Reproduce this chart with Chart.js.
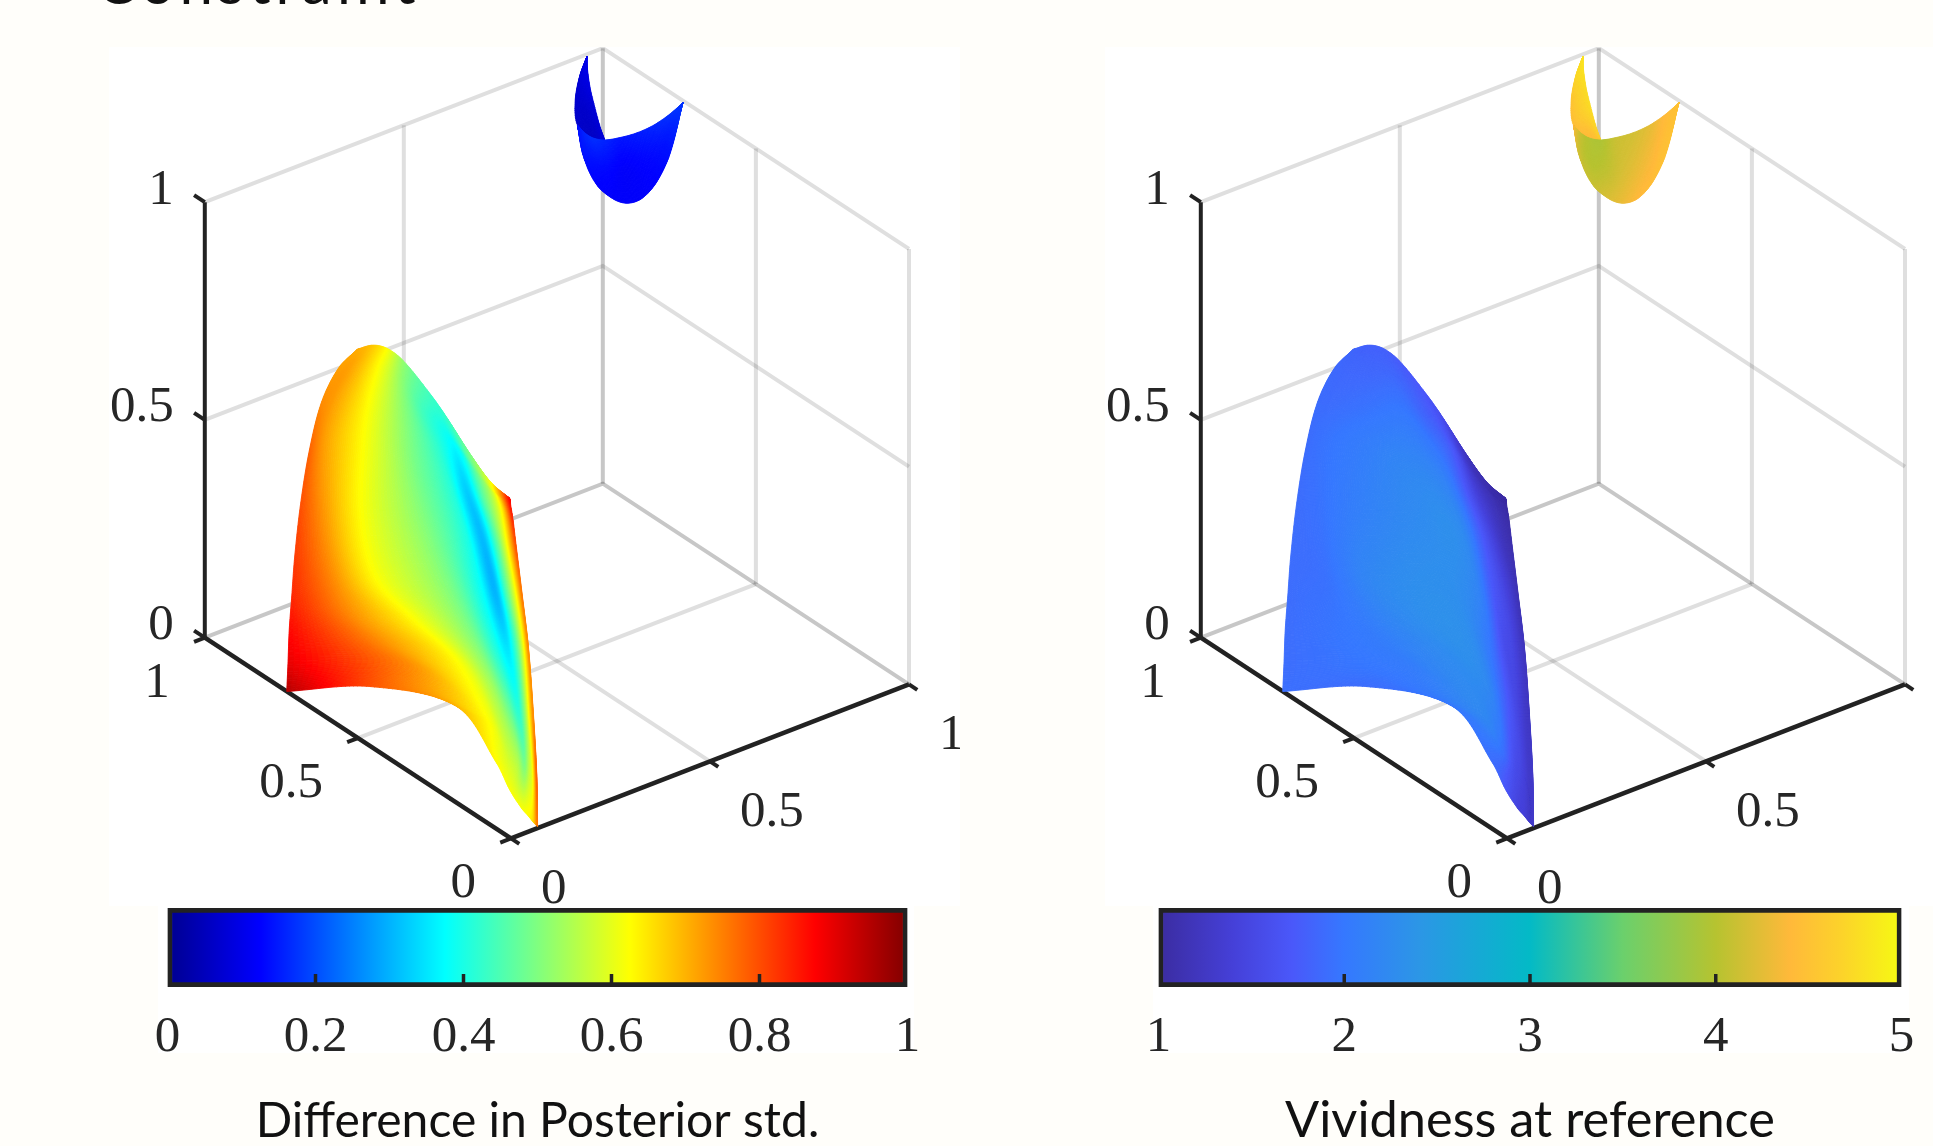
<!DOCTYPE html>
<html>
<head>
<meta charset="utf-8">
<title>Difference in Posterior std. / Vividness at reference</title>
<script src="https://cdn.jsdelivr.net/npm/chart.js@4"></script>
<style>
  html, body { margin: 0; padding: 0; width: 1933px; height: 1146px; overflow: hidden; background: #fffefa; }
  canvas, .patch, .heading { position: absolute; }
  .patch { background: #fff; }
  .heading { left: 96px; top: -49px; font: 60px/60px Lato, sans-serif; letter-spacing: 5px; color: #111; white-space: nowrap; }
</style>
</head>
<body>
<div class="heading">Constraint</div>
<div class="patch" style="left:158px;top:906px;width:756px;height:147px"></div>
<div class="patch" style="left:1153px;top:906px;width:756px;height:147px"></div>
<canvas id="panelLeft" width="851" height="859" style="left:109px;top:47px"></canvas>
<canvas id="panelRight" width="851" height="859" style="left:1105px;top:47px"></canvas>
<canvas id="barLeft" width="817" height="241" style="left:129px;top:905px"></canvas>
<canvas id="barRight" width="820" height="241" style="left:1120px;top:905px"></canvas>
<script>
// Tick labels
const gridTicks = [0, 0.5, 1];
const tickLabels = ['0', '0.5', '1'];
const diffTicksStep = 0.2;
const vividTicksStep = 1;

// Colormaps: stop position (0-1) and colour
const jetStops = [0, 0.125, 0.375, 0.625, 0.875, 1];
const jetColors = [[0, 0, 143], [0, 0, 255], [0, 255, 255], [255, 255, 0], [255, 0, 0], [128, 0, 0]];
const vividStops = [0, 0.1, 0.18, 0.25, 0.35, 0.5, 0.625, 0.75, 0.85, 0.92, 1];
const vividColors = [[59, 44, 160], [69, 64, 216], [74, 88, 250], [53, 120, 255], [44, 150, 230], [3, 186, 198],
  [107, 208, 108], [182, 195, 48], [255, 185, 58], [252, 211, 42], [246, 250, 18]];

// Large surface, one list per column, bottom edge to top edge.
// S = position along the sheet between the two floor axes, Z = height
const largeS = [
  [-0.003, 0.002, 0.007, 0.017, 0.029, 0.053, 0.088, 0.137, 0.204, 0.280],
  [0.331, 0.491, 0.371, 0.251, 0.177, 0.144, 0.150, 0.184, 0.271, 0.344],
  [0.678, 0.799, 0.678, 0.505, 0.358, 0.297, 0.304, 0.324, 0.364, 0.400],
  [0.839, 0.886, 0.825, 0.732, 0.638, 0.551, 0.505, 0.485, 0.464, 0.464],
  [0.892, 0.926, 0.892, 0.839, 0.785, 0.718, 0.658, 0.605, 0.558, 0.569],
  [0.939, 0.952, 0.932, 0.886, 0.839, 0.779, 0.718, 0.672, 0.645, 0.632],
  [0.966, 0.970, 0.952, 0.919, 0.879, 0.832, 0.785, 0.758, 0.745, 0.738],
  [0.986, 0.986, 0.970, 0.950, 0.916, 0.882, 0.859, 0.841, 0.828, 0.819],
  [1.003, 1.000, 0.986, 0.966, 0.939, 0.916, 0.903, 0.895, 0.894, 0.892]
];
const largeZ = [
  [0.000, 0.066, 0.144, 0.224, 0.320, 0.450, 0.583, 0.709, 0.807, 0.875],
  [0.116, 0.212, 0.232, 0.259, 0.328, 0.463, 0.618, 0.720, 0.839, 0.904],
  [0.179, 0.193, 0.286, 0.327, 0.373, 0.496, 0.666, 0.757, 0.857, 0.914],
  [0.099, 0.129, 0.263, 0.371, 0.457, 0.575, 0.668, 0.769, 0.846, 0.906],
  [0.054, 0.126, 0.246, 0.367, 0.472, 0.589, 0.678, 0.753, 0.815, 0.865],
  [0.027, 0.127, 0.243, 0.381, 0.489, 0.608, 0.696, 0.774, 0.804, 0.834],
  [0.018, 0.125, 0.249, 0.392, 0.502, 0.617, 0.694, 0.740, 0.758, 0.773],
  [0.010, 0.114, 0.255, 0.401, 0.521, 0.617, 0.687, 0.714, 0.723, 0.736],
  [0.005, 0.119, 0.260, 0.407, 0.528, 0.628, 0.685, 0.710, 0.719, 0.724]
];
const largeDiff = [
  [0.95, 0.90, 0.87, 0.84, 0.82, 0.80, 0.78, 0.74, 0.72, 0.71],
  [0.80, 0.74, 0.74, 0.74, 0.74, 0.73, 0.72, 0.72, 0.71, 0.68],
  [0.70, 0.625, 0.625, 0.625, 0.625, 0.625, 0.625, 0.625, 0.625, 0.625],
  [0.63, 0.58, 0.54, 0.50, 0.50, 0.50, 0.50, 0.50, 0.51, 0.52],
  [0.62, 0.55, 0.47, 0.40, 0.38, 0.40, 0.41, 0.42, 0.43, 0.44],
  [0.62, 0.50, 0.42, 0.35, 0.305, 0.31, 0.33, 0.37, 0.40, 0.43],
  [0.63, 0.56, 0.50, 0.45, 0.45, 0.45, 0.46, 0.47, 0.49, 0.50],
  [0.66, 0.625, 0.625, 0.625, 0.625, 0.625, 0.625, 0.625, 0.625, 0.625],
  [0.76, 0.78, 0.74, 0.74, 0.76, 0.80, 0.84, 0.86, 0.87, 0.87]
];
const largeVivid = [
  [1.92, 1.90, 1.90, 1.90, 1.90, 1.90, 1.90, 1.90, 1.88, 1.85],
  [1.90, 2.05, 2.05, 2.00, 1.95, 1.95, 1.95, 1.90, 1.85, 1.80],
  [2.00, 2.20, 2.25, 2.25, 2.20, 2.10, 2.05, 1.95, 1.85, 1.80],
  [1.90, 1.90, 2.20, 2.30, 2.30, 2.25, 2.20, 2.05, 1.90, 1.75],
  [1.70, 1.60, 1.80, 1.95, 2.15, 2.25, 2.15, 2.00, 1.85, 1.70],
  [1.45, 1.50, 1.55, 1.60, 1.75, 1.85, 1.80, 1.75, 1.70, 1.60],
  [1.40, 1.40, 1.42, 1.50, 1.55, 1.50, 1.40, 1.30, 1.25, 1.22],
  [1.30, 1.30, 1.30, 1.30, 1.30, 1.22, 1.15, 1.12, 1.10, 1.10],
  [1.28, 1.28, 1.25, 1.20, 1.15, 1.10, 1.05, 1.02, 1.02, 1.02]
];

// Small surface near the top back corner: front face, one list per column, lower outline to upper edge
const frontS = [
  [-0.098, -0.098, -0.098], [-0.035, -0.028, -0.018], [0.104, 0.087, 0.069], [0.279, 0.240, 0.185], [0.425, 0.384, 0.349],
  [0.576, 0.548, 0.523], [0.733, 0.715, 0.698], [0.872, 0.862, 0.855], [1.005, 1.005, 1.005]
];
const frontZ = [
  [0.827, 0.827, 0.827], [0.761, 0.789, 0.817], [0.711, 0.763, 0.815], [0.697, 0.759, 0.823], [0.703, 0.775, 0.846],
  [0.730, 0.803, 0.875], [0.785, 0.848, 0.911], [0.865, 0.908, 0.951], [0.995, 0.995, 0.995]
];
const frontDiff = [
  [0.14, 0.14, 0.14], [0.14, 0.15, 0.16], [0.125, 0.14, 0.17], [0.12, 0.13, 0.16], [0.12, 0.12, 0.145],
  [0.12, 0.125, 0.15], [0.125, 0.135, 0.16], [0.14, 0.15, 0.17], [0.18, 0.18, 0.18]
];
const frontVivid = [
  [4.40, 4.40, 4.40], [4.15, 4.10, 4.10], [4.10, 4.00, 3.98], [4.20, 4.05, 3.95], [4.30, 4.15, 4.10],
  [4.40, 4.25, 4.15], [4.45, 4.35, 4.25], [4.50, 4.45, 4.40], [4.50, 4.50, 4.50]
];

// Small surface: the darker wing behind it
const wingS = [
  [0, 0, 0], [-0.077, -0.035, 0.007], [-0.123, -0.046, 0.035], [-0.098, -0.011, 0.076], [0.035, 0.083, 0.132], [0.185, 0.185, 0.185]
];
const wingZ = [
  [0.995, 0.995, 0.995], [0.941, 0.953, 0.965], [0.878, 0.902, 0.926], [0.827, 0.860, 0.892], [0.813, 0.833, 0.852], [0.823, 0.823, 0.823]
];
const wingDiff = [
  [0.10, 0.10, 0.10], [0.08, 0.09, 0.10], [0.07, 0.075, 0.09], [0.065, 0.065, 0.08], [0.06, 0.065, 0.08], [0.08, 0.08, 0.08]
];
const wingVivid = [
  [4.75, 4.80, 4.80], [4.70, 4.75, 4.80], [4.50, 4.65, 4.75], [4.45, 4.60, 4.75], [4.40, 4.50, 4.70], [4.50, 4.55, 4.60]
];

// Sheets the surfaces lie on: floor position at S = 0 and S = 1
const largeSheet = { a0: 0, b0: 0.73, a1: 0.065, b1: 0 };
const smallSheet = { a0: 0.96, b0: 1, a1: 1, b1: 0.74 };

// Camera for the 3D box
function project(a, b, z) {
  return { x: 398 * a - 306.2 * b, y: 154 * a + 200.7 * b + 435.5 * z };
}

function colorAt(t, stops, colors) {
  const v = Math.min(1, Math.max(0, t));
  let i = 0;
  while (i < stops.length - 2 && v > stops[i + 1]) i++;
  const f = (v - stops[i]) / (stops[i + 1] - stops[i]);
  const c = colors[i].map((c0, k) => Math.round(c0 + (colors[i + 1][k] - c0) * f));
  return `rgb(${c[0]},${c[1]},${c[2]})`;
}

function toRgb(c) {
  return `rgb(${c[0]},${c[1]},${c[2]})`;
}

function surfaceDataset(sRows, zRows, vRows, sheet, vMin, vMax) {
  const data = [];
  sRows.forEach((col, i) => {
    col.forEach((s, j) => {
      const a = sheet.a0 + (sheet.a1 - sheet.a0) * s;
      const b = sheet.b0 + (sheet.b1 - sheet.b0) * s;
      data.push(project(a, b, zRows[i][j]));
    });
  });
  return {
    data: data,
    meshCols: sRows.length,
    meshRows: sRows[0].length,
    meshValues: vRows.map(col => col.map(v => (v - vMin) / (vMax - vMin))),
    pointRadius: 0,
    showLine: false
  };
}

function lineDataset(points, color, width) {
  return {
    data: points.map(p => project(p[0], p[1], p[2])),
    showLine: true,
    borderColor: color,
    borderWidth: width,
    pointRadius: 0,
    fill: false
  };
}

function boxDatasets() {
  const light = 'rgba(38,38,38,0.15)';
  const edge = 'rgba(38,38,38,0.26)';
  const dark = '#222222';
  const sets = [];
  gridTicks.forEach(t => {
    sets.push(lineDataset([[0, 1, t], [1, 1, t], [1, 0, t]], t === 0 ? edge : light, 4));
  });
  sets.push(lineDataset([[0.5, 1, 0], [0.5, 1, 1]], light, 4));
  sets.push(lineDataset([[1, 0.5, 0], [1, 0.5, 1]], light, 4));
  sets.push(lineDataset([[1, 0, 0], [1, 0, 1]], light, 4));
  sets.push(lineDataset([[1, 1, 0], [1, 1, 1]], edge, 4));
  sets.push(lineDataset([[0.5, 0, 0], [0.5, 1, 0]], light, 4));
  sets.push(lineDataset([[0, 0.5, 0], [1, 0.5, 0]], light, 4));
  sets.push(lineDataset([[0, 1, 0], [0, 1, 1]], dark, 4));
  sets.push(lineDataset([[0, 0, 0], [1, 0, 0]], dark, 4.5));
  sets.push(lineDataset([[0, 0, 0], [0, 1, 0]], dark, 4.5));
  gridTicks.forEach(t => {
    sets.push(lineDataset([[t, 0, 0], [t, -0.027, 0]], dark, 4));
    sets.push(lineDataset([[0, t, 0], [-0.027, t, 0]], dark, 4));
    sets.push(lineDataset([[0, 1, t], [0, 1.035, t]], dark, 4));
  });
  return sets;
}

// Cubic between p1 and p2, tangents weighted by how far apart the nodes are
function hermite(p0, p1, p2, p3, f, d01, d12, d23) {
  const w1 = d01 + d12 > 0 ? d12 / (d01 + d12) : 0.5;
  const w2 = d12 + d23 > 0 ? d12 / (d12 + d23) : 0.5;
  const m1 = (p2 - p0) * w1;
  const m2 = (p3 - p1) * w2;
  const f2 = f * f;
  const f3 = f2 * f;
  return (2 * f3 - 3 * f2 + 1) * p1 + (f3 - 2 * f2 + f) * m1 + (3 * f2 - 2 * f3) * p2 + (f3 - f2) * m2;
}

// Smooth lookup in a mesh given as get(col,row); du and dv are node distances along rows and columns
function meshValue(get, du, dv, cols, rows, i, f, j, g) {
  const col = [];
  for (let m = -1; m <= 2; m++) {
    const ci = Math.min(cols - 1, Math.max(0, i + m));
    const r = [-1, 0, 1, 2].map(n => get(ci, Math.min(rows - 1, Math.max(0, j + n))));
    col.push(hermite(r[0], r[1], r[2], r[3], g, dv(ci, j - 1), dv(ci, j), dv(ci, j + 1)));
  }
  const dBlend = k => du(k, j) * (1 - g) + du(k, j + 1) * g;
  return hermite(col[0], col[1], col[2], col[3], f, dBlend(i - 1), dBlend(i), dBlend(i + 1));
}

// Shades each mesh cell with the colormap, on the chart's own scales
const surfaceShading = {
  id: 'surfaceShading',
  afterDatasetsDraw(chart, args, opts) {
    const ctx = chart.ctx;
    const xs = chart.scales.x;
    const ys = chart.scales.y;
    chart.data.datasets.forEach(ds => {
      if (!ds.meshCols) return;
      const cols = ds.meshCols;
      const rows = ds.meshRows;
      const steps = cols > 6 && rows > 3 ? 20 : 14;
      const px = (i, j) => xs.getPixelForValue(ds.data[i * rows + j].x);
      const py = (i, j) => ys.getPixelForValue(ds.data[i * rows + j].y);
      const val = (i, j) => ds.meshValues[i][j];
      const du = (i, j) => (i < 0 || i >= cols - 1 ? 0 : Math.hypot(px(i + 1, j) - px(i, j), py(i + 1, j) - py(i, j)));
      const dv = (i, j) => (j < 0 || j >= rows - 1 ? 0 : Math.hypot(px(i, j + 1) - px(i, j), py(i, j + 1) - py(i, j)));
      const nu = (cols - 1) * steps;
      const nv = (rows - 1) * steps;
      const at = (u, v, half) => {
        const uu = (u + half) / steps;
        const vv = (v + half) / steps;
        const i = Math.min(cols - 2, Math.floor(uu));
        const j = Math.min(rows - 2, Math.floor(vv));
        return [i, uu - i, j, vv - j];
      };
      const grid = [];
      for (let u = 0; u <= nu; u++) {
        const line = [];
        for (let v = 0; v <= nv; v++) {
          const [i, f, j, g] = at(u, v, 0);
          line.push([meshValue(px, du, dv, cols, rows, i, f, j, g), meshValue(py, du, dv, cols, rows, i, f, j, g)]);
        }
        grid.push(line);
      }
      ctx.save();
      ctx.lineWidth = 0.9;
      ctx.lineJoin = 'round';
      for (let u = 0; u < nu; u++) {
        for (let v = 0; v < nv; v++) {
          const [i, f, j, g] = at(u, v, 0.5);
          const color = colorAt(meshValue(val, du, dv, cols, rows, i, f, j, g), opts.stops, opts.colors);
          ctx.fillStyle = color;
          ctx.strokeStyle = color;
          ctx.beginPath();
          ctx.moveTo(grid[u][v][0], grid[u][v][1]);
          ctx.lineTo(grid[u + 1][v][0], grid[u + 1][v][1]);
          ctx.lineTo(grid[u + 1][v + 1][0], grid[u + 1][v + 1][1]);
          ctx.lineTo(grid[u][v + 1][0], grid[u][v + 1][1]);
          ctx.closePath();
          ctx.fill();
          ctx.stroke();
        }
      }
      ctx.restore();
    });
  }
};

// Axis tick labels of the 3D box, placed from the projected tick positions
const boxLabels = {
  id: 'boxLabels',
  afterDraw(chart) {
    const ctx = chart.ctx;
    const xs = chart.scales.x;
    const ys = chart.scales.y;
    const put = (text, p, dx, dy, align) => {
      ctx.textAlign = align;
      ctx.fillText(text, xs.getPixelForValue(p.x) + dx, ys.getPixelForValue(p.y) + dy);
    };
    ctx.save();
    ctx.font = '51px "Liberation Serif"';
    ctx.fillStyle = '#262626';
    ctx.textBaseline = 'middle';
    gridTicks.forEach((t, i) => {
      put(tickLabels[i], project(t, 0, 0), 30, 51, 'left');
      put(tickLabels[i], project(0, t, 0), -35, 45.5, 'right');
      put(tickLabels[i], project(0, 1, t), -31, -12, 'right');
    });
    ctx.restore();
  }
};

function panelChart(id, sets, stops, colors) {
  return new Chart(document.getElementById(id), {
    type: 'scatter',
    data: { datasets: sets.concat(boxDatasets()) },
    plugins: [surfaceShading, boxLabels],
    options: {
      responsive: false,
      animation: false,
      layout: { padding: 0 },
      scales: {
        x: { type: 'linear', display: false, min: -402, max: 449 },
        y: { type: 'linear', display: false, min: -67.6, max: 791.4 }
      },
      plugins: {
        legend: { display: false },
        tooltip: { enabled: false },
        surfaceShading: { stops: stops, colors: colors }
      }
    }
  });
}

// Inside tick marks of the colour bars
const barTicks = {
  id: 'barTicks',
  afterDraw(chart) {
    const ctx = chart.ctx;
    const scale = chart.scales.x;
    const area = chart.chartArea;
    ctx.save();
    ctx.strokeStyle = '#222222';
    ctx.lineWidth = 3.5;
    scale.ticks.forEach((tick, i) => {
      if (i === 0 || i === scale.ticks.length - 1) return;
      const x = scale.getPixelForValue(tick.value);
      ctx.beginPath();
      ctx.moveTo(x, area.bottom - 4);
      ctx.lineTo(x, area.bottom - 13);
      ctx.stroke();
    });
    ctx.restore();
  }
};

function colorBar(id, min, max, step, title, titleSize, stops, colors) {
  return new Chart(document.getElementById(id), {
    type: 'bar',
    data: {
      labels: [''],
      datasets: [{
        data: [[min, max]],
        categoryPercentage: 1,
        barPercentage: 1,
        borderColor: '#222222',
        borderWidth: 5,
        borderSkipped: false,
        backgroundColor(context) {
          const area = context.chart.chartArea;
          if (!area) return '#fff';
          const g = context.chart.ctx.createLinearGradient(area.left, 0, area.right, 0);
          stops.forEach((s, i) => g.addColorStop(s, toRgb(colors[i])));
          return g;
        }
      }]
    },
    plugins: [barTicks],
    options: {
      indexAxis: 'y',
      responsive: false,
      animation: false,
      layout: { padding: { left: 38.5, right: 38.5, top: 3, bottom: 0 } },
      scales: {
        y: { display: false },
        x: {
          min: min,
          max: max,
          afterFit(scale) { scale.height = 159; },
          grid: { display: false, drawTicks: false },
          border: { display: false },
          ticks: {
            stepSize: step,
            autoSkip: false,
            maxRotation: 0,
            padding: 20,
            color: '#262626',
            font: { family: '"Liberation Serif"', size: 51 },
            callback: value => String(+value.toFixed(1))
          },
          title: {
            display: true,
            text: title,
            color: '#111111',
            padding: 0,
            font: { family: 'Lato', size: titleSize, lineHeight: 1 }
          }
        }
      },
      plugins: { legend: { display: false }, tooltip: { enabled: false } }
    }
  });
}

document.getElementById('panelLeft').style.background = '#fff';
document.getElementById('panelRight').style.background = '#fff';

panelChart('panelLeft', [
  surfaceDataset(largeS, largeZ, largeDiff, largeSheet, 0, 1),
  surfaceDataset(wingS, wingZ, wingDiff, smallSheet, 0, 1),
  surfaceDataset(frontS, frontZ, frontDiff, smallSheet, 0, 1)
], jetStops, jetColors);

panelChart('panelRight', [
  surfaceDataset(largeS, largeZ, largeVivid, largeSheet, 1, 5),
  surfaceDataset(wingS, wingZ, wingVivid, smallSheet, 1, 5),
  surfaceDataset(frontS, frontZ, frontVivid, smallSheet, 1, 5)
], vividStops, vividColors);

colorBar('barLeft', 0, 1, diffTicksStep, 'Difference in Posterior std.', 48, jetStops, jetColors);
colorBar('barRight', 1, 5, vividTicksStep, 'Vividness at reference', 50.5, vividStops, vividColors);
</script>
</body>
</html>
